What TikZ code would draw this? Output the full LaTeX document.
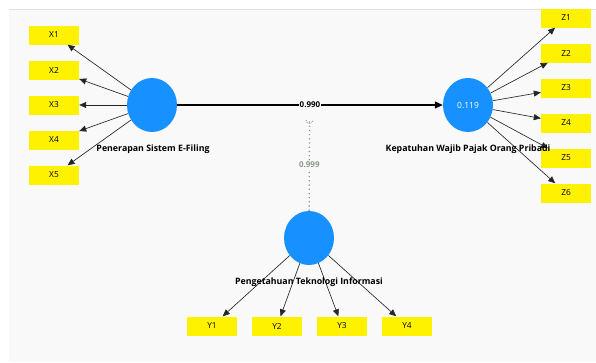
\documentclass[tikz,border=0pt]{standalone}
\usepackage{fontspec}
\setmainfont{Open Sans}
\usetikzlibrary{arrows.meta,shapes.geometric}
\definecolor{lvblue}{RGB}{22,145,255}
\definecolor{bgc}{RGB}{249,249,249}
\definecolor{bline}{RGB}{225,225,225}
\definecolor{modgray}{RGB}{140,152,140}
\tikzset{
  ind/.style={fill=yellow, minimum width=50pt, minimum height=19pt, inner sep=0pt, font=\fontsize{8.3}{9}\selectfont},
  lv/.style={ellipse, fill=lvblue, minimum width=50pt, minimum height=54pt, inner sep=0pt, text=white, font=\fontsize{8.5}{10}\selectfont},
  lvlabel/.style={font=\bfseries\fontsize{8.8}{10}\selectfont, inner sep=0pt},
  load/.style={draw=black!85, line width=0.65pt, -{Triangle[length=7pt,width=6pt]}},
  coef/.style={fill=bgc, inner sep=1pt, font=\bfseries\fontsize{8}{9}\selectfont},
}
\begin{document}
\begin{tikzpicture}[x=1pt,y=-1pt]
\useasboundingbox (0,0) rectangle (596,362);
\fill[white] (0,0) rectangle (596,362);
\fill[bgc] (9,9) rectangle (596,362);
\draw[bline, line width=0.8pt] (9,9) -- (596,9);
% latent variables
\node[lv] (pe) at (152,105) {};
\node[lv] (kp) at (468,105) {0.119};
\node[lv] (pt) at (309,238) {};
% indicators
\node[ind] (x1) at (54,35) {X1};
\node[ind] (x2) at (54,70) {X2};
\node[ind] (x3) at (54,105) {X3};
\node[ind] (x4) at (54,140) {X4};
\node[ind] (x5) at (54,175) {X5};
\node[ind] (z1) at (566,18) {Z1};
\node[ind] (z2) at (566,53) {Z2};
\node[ind] (z3) at (566,88) {Z3};
\node[ind] (z4) at (566,123) {Z4};
\node[ind] (z5) at (566,158) {Z5};
\node[ind] (z6) at (566,193) {Z6};
\node[ind] (y1) at (212,326) {Y1};
\node[ind] (y2) at (277,326) {Y2};
\node[ind] (y3) at (342,326) {Y3};
\node[ind] (y4) at (407,326) {Y4};
% loadings
\foreach \i in {x1,x2,x3,x4,x5} \draw[load] (pe) -- (\i);
\foreach \i in {z1,z2,z3,z4,z5,z6} \draw[load] (kp) -- (\i);
\foreach \i in {y1,y2,y3,y4} \draw[load] (pt) -- (\i);
\node[lvlabel] (pel) at (153,149) {Penerapan Sistem E-Filing};
\node[lvlabel] (kpl) at (468,149) {Kepatuhan Wajib Pajak Orang Pribadi};
\node[lvlabel] (ptl) at (309,282) {Pengetahuan Teknologi Informasi};
% path
\draw[black, line width=1.3pt, -{Triangle[length=8pt,width=7pt]}] (pe) -- node[coef, text=black] (c1) {0.990} (kp);
% moderating effect
\coordinate (mt) at (309.5,119);
\draw[modgray, line width=1.3pt, dash pattern=on 1.2pt off 3pt] (pt) -- node[coef, text=modgray, pos=0.5] (c2) {0.999} (mt);
\draw[modgray, line width=0.8pt, dash pattern=on 1pt off 1.2pt] (306,120) arc[start angle=180, end angle=0, radius=3.5];
\end{tikzpicture}
\end{document}
